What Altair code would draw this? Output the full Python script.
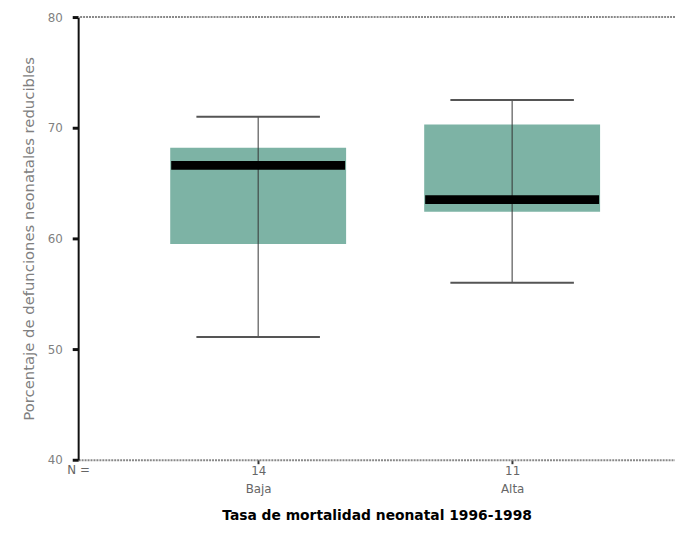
import altair as alt
import pandas as pd

groups = ["Baja", "Alta"]
n_counts = [14, 11]
whisker_low = [51.1, 56.0]
q1 = [59.5, 62.4]
median = [66.6, 63.5]
q3 = [68.2, 70.3]
whisker_high = [71.0, 72.5]

df = pd.DataFrame({
    "grupo": groups,
    "n": n_counts,
    "lo": whisker_low,
    "q1": q1,
    "med": median,
    "q3": q3,
    "hi": whisker_high,
})

FONT = "DejaVu Sans"
W, H = 604, 448

label_expr = " : ".join(
    [f"datum.value == '{g}' ? ['{n}', '{g}']" for g, n in zip(groups, n_counts)]
) + " : datum.value"

x_enc = alt.X(
    "grupo:N",
    scale=alt.Scale(type="point", domain=groups, padding=0.675, align=0.525),
    axis=alt.Axis(
        title="Tasa de mortalidad neonatal 1996-1998",
        labelExpr=label_expr,
        labelAngle=0,
        labelColor="#666666",
        labelFontSize=12,
        labelLineHeight=18,
        labelPadding=2,
        tickSize=4,
        tickColor="#333333",
        tickWidth=2,
        domainColor="#888888",
        domainWidth=2,
        domainDash=[2, 1],
        titleColor="#000000",
        titleFontSize=14,
        titleFontWeight="bold",
        titlePadding=14,
        grid=False,
    ),
)

y_scale = alt.Scale(domain=[40, 80], nice=False, zero=False)
y_axis = alt.Axis(
    title="Porcentaje de defunciones neonatales reducibles",
    values=[40, 50, 60, 70, 80],
    labelColor="#808080",
    labelFontSize=12,
    labelPadding=10,
    tickSize=6,
    tickWidth=3,
    tickColor="#111111",
    domainColor="#111111",
    domainWidth=2,
    titleColor="#808080",
    titleFontSize=15,
    titleFontWeight="normal",
    titlePadding=11,
    grid=False,
)

base = alt.Chart(df)

box = base.mark_bar(color="#7db3a5", size=178, opacity=1).encode(
    x=x_enc,
    y=alt.Y("q1:Q", scale=y_scale, axis=y_axis),
    y2="q3:Q",
)

whisker = base.mark_rule(color="#333333", strokeWidth=1, opacity=1).encode(
    x=alt.X("grupo:N"),
    y="lo:Q",
    y2="hi:Q",
)

cap_lo = base.mark_tick(color="#555555", size=125, thickness=2, orient="horizontal", opacity=1).encode(
    x=alt.X("grupo:N"), y="lo:Q"
)
cap_hi = base.mark_tick(color="#555555", size=125, thickness=2, orient="horizontal", opacity=1).encode(
    x=alt.X("grupo:N"), y="hi:Q"
)
med = base.mark_tick(color="#000000", size=176, thickness=9, orient="horizontal", opacity=1).encode(
    x=alt.X("grupo:N"), y="med:Q"
)

top_line = alt.Chart(pd.DataFrame({"v": [80]})).mark_rule(
    color="#888888", strokeWidth=2, strokeDash=[2, 1]
).encode(y=alt.Y("v:Q", scale=y_scale))

n_label = alt.Chart(pd.DataFrame({"t": ["N ="]})).mark_text(
    align="left", baseline="middle", font=FONT, fontSize=12, color="#666666"
).encode(text="t:N", x=alt.value(-11), y=alt.value(H + 10))

chart = alt.layer(box, whisker, cap_lo, cap_hi, med, top_line, n_label).properties(
    width=W,
    height=H,
    autosize=alt.AutoSizeParams(type="none"),
    padding={"left": 71, "top": 6, "right": 0, "bottom": 75},
).configure_view(stroke=None).configure_axis(
    labelFont=FONT, titleFont=FONT
)

chart.save("out.html", embed_options={"renderer": "svg", "actions": False})
